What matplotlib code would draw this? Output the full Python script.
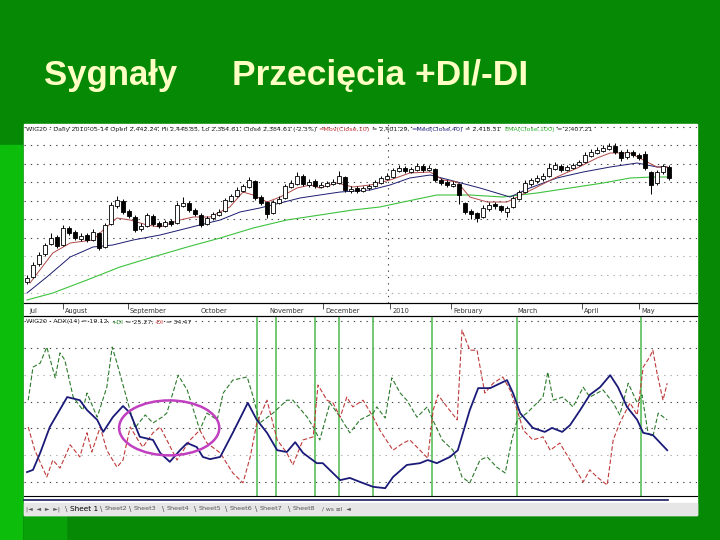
import numpy as np
import matplotlib.pyplot as plt
from matplotlib.patches import Rectangle, Ellipse
from matplotlib.lines import Line2D

# WIG20 candles (one candle per two sessions, Jul 2009 - May 2010)
opens = [1815, 1840, 1905, 1955, 2005, 2040, 2000, 2085, 2065, 2030,
         2050, 2025, 2060, 1990, 2105, 2195, 2220, 2170, 2140, 2080,
         2095, 2145, 2110, 2095, 2120, 2110, 2195, 2210, 2175, 2150,
         2105, 2135, 2150, 2170, 2220, 2245, 2270, 2290, 2320, 2240,
         2215, 2160, 2210, 2235, 2290, 2305, 2345, 2300, 2320, 2290,
         2295, 2305, 2310, 2340, 2270, 2285, 2270, 2285, 2295, 2310,
         2330, 2340, 2370, 2385, 2365, 2375, 2395, 2375, 2380, 2325,
         2315, 2295, 2305, 2210, 2170, 2160, 2140, 2180, 2205, 2195,
         2165, 2190, 2230, 2265, 2305, 2320, 2330, 2345, 2380, 2395,
         2375, 2385, 2400, 2415, 2445, 2460, 2470, 2480, 2495, 2465,
         2440, 2465, 2450, 2455, 2365, 2310, 2365, 2390]
highs = [1850, 1915, 1965, 2010, 2060, 2050, 2100, 2095, 2075, 2060,
         2060, 2080, 2065, 2110, 2215, 2245, 2230, 2180, 2150, 2110,
         2160, 2155, 2120, 2125, 2130, 2215, 2240, 2220, 2185, 2160,
         2145, 2165, 2180, 2235, 2255, 2290, 2305, 2340, 2325, 2250,
         2220, 2225, 2245, 2305, 2325, 2365, 2355, 2330, 2330, 2315,
         2320, 2330, 2370, 2345, 2295, 2295, 2295, 2305, 2325, 2345,
         2360, 2385, 2400, 2395, 2390, 2410, 2405, 2400, 2385, 2335,
         2325, 2320, 2310, 2215, 2180, 2165, 2200, 2215, 2215, 2200,
         2195, 2245, 2275, 2325, 2335, 2350, 2360, 2410, 2415, 2405,
         2400, 2410, 2425, 2465, 2480, 2490, 2500, 2510, 2510, 2475,
         2480, 2475, 2460, 2470, 2370, 2375, 2405, 2400]
lows = [1805, 1835, 1895, 1945, 2000, 1985, 1995, 2050, 2025, 2020,
        2015, 2020, 1975, 1985, 2100, 2185, 2155, 2135, 2065, 2070,
        2090, 2095, 2085, 2090, 2095, 2105, 2190, 2165, 2145, 2090,
        2100, 2125, 2145, 2165, 2215, 2240, 2265, 2285, 2225, 2200,
        2135, 2155, 2205, 2230, 2285, 2300, 2295, 2290, 2285, 2285,
        2290, 2300, 2305, 2265, 2260, 2260, 2265, 2275, 2290, 2305,
        2325, 2335, 2365, 2360, 2360, 2370, 2365, 2370, 2315, 2300,
        2290, 2290, 2205, 2155, 2130, 2115, 2135, 2170, 2180, 2165,
        2140, 2185, 2225, 2260, 2295, 2310, 2320, 2340, 2375, 2365,
        2370, 2380, 2395, 2410, 2440, 2455, 2465, 2475, 2455, 2420,
        2430, 2440, 2425, 2375, 2255, 2300, 2355, 2325]
closes = [1835, 1900, 1950, 2000, 2035, 1995, 2085, 2060, 2035, 2045,
          2025, 2065, 1985, 2100, 2200, 2225, 2165, 2145, 2075, 2095,
          2150, 2105, 2095, 2115, 2105, 2200, 2210, 2175, 2155, 2100,
          2135, 2155, 2165, 2225, 2245, 2275, 2295, 2325, 2235, 2210,
          2155, 2215, 2230, 2295, 2310, 2345, 2305, 2315, 2295, 2300,
          2310, 2315, 2345, 2275, 2280, 2270, 2285, 2295, 2315, 2335,
          2345, 2375, 2385, 2370, 2380, 2395, 2375, 2385, 2325, 2310,
          2300, 2305, 2250, 2165, 2155, 2135, 2185, 2200, 2195, 2175,
          2185, 2235, 2265, 2310, 2325, 2335, 2345, 2385, 2400, 2375,
          2390, 2400, 2415, 2450, 2465, 2475, 2485, 2495, 2465, 2435,
          2465, 2450, 2435, 2385, 2300, 2365, 2395, 2335]

# Mov(Close,10)
ma10_x = [0.5, 4.3, 7.2, 11, 12.7, 15, 17.2, 20, 22.2, 25.5, 27.7, 30.5, 33.8, 36,
          37.7, 40, 42.2, 45, 47.2, 48.8, 51.7, 54.3, 57.2, 60.5, 63.8, 67.2, 69.3,
          71.7, 73.8, 76.7, 80, 81.7, 85, 88.3, 91.7, 95, 97.2, 100.5, 102.7, 105, 106.7]
ma10_y = [1810, 1960, 2010, 2025, 2075, 2135, 2125, 2100, 2090, 2125, 2140, 2140, 2190, 2265,
          2250, 2215, 2240, 2285, 2300, 2285, 2310, 2290, 2300, 2325, 2360, 2365, 2325,
          2315, 2240, 2215, 2215, 2240, 2290, 2340, 2385, 2435, 2460, 2460, 2425, 2390, 2390]
# Med(Close,40)
med40_x = [0, 3.3, 7.2, 11, 14.3, 17.7, 22.2, 25.5, 28.8, 32.2, 35.5, 38.8, 42.2, 45.5,
           48.8, 52.2, 57.2, 60.5, 63.8, 67.2, 71.7, 75.5, 80.5, 83.8, 88.3, 92.7, 97.2,
           101.7, 105, 106.7]
med40_y = [1760, 1840, 1940, 1990, 2000, 2025, 2050, 2075, 2100, 2125, 2165, 2185, 2210, 2235,
           2250, 2265, 2275, 2300, 2335, 2350, 2315, 2285, 2240, 2285, 2335, 2365, 2390,
           2410, 2390, 2390]
# EMA(Close,100)
ema100_x = [0, 4.3, 10, 15.5, 21, 26.7, 32.2, 37.7, 43.3, 48.8, 54.3, 58.8, 62.7, 68.3,
            73.8, 79.3, 85, 90.5, 96, 100.5, 104.3, 106.7]
ema100_y = [1725, 1760, 1825, 1890, 1940, 1990, 2035, 2085, 2125, 2150, 2175, 2190, 2215, 2250,
            2250, 2240, 2260, 2285, 2310, 2335, 2340, 2340]

# ADX(14)
adx_x = [0, 1, 2.2, 3.8, 6.7, 8.8, 10, 11.7, 12.7, 14.3, 16, 17.2, 18.8, 21, 22.2, 23.8,
         25.5, 26.7, 28.3, 29.3, 30.5, 32.2, 34.3, 36.8, 38.3, 40, 41.7, 43.3, 44.7, 46,
         48.3, 49.3, 52.2, 53.8, 55.5, 57.7, 59.7, 61, 63.3, 65.5, 66.8, 68.3, 70.5, 71.8,
         73.8, 75.2, 77.2, 80, 81, 82.2, 84.3, 86.3, 87.5, 89.2, 90.5, 92.2, 93.8, 95.5,
         97.2, 98.5, 100, 101.7, 102.7, 104.3, 106.7]
adx_y = [14.2, 14.7, 18.5, 24.3, 31.0, 30.3, 28.1, 25.9, 23.2, 26.5, 29.0, 27.4, 22.1, 21.4,
         18.5, 16.5, 19.1, 20.7, 19.8, 17.6, 17.1, 17.6, 23.0, 29.7, 25.9, 23.0, 19.1, 18.7,
         20.9, 18.5, 16.2, 16.2, 12.4, 12.9, 12.0, 10.9, 10.6, 13.1, 15.8, 16.2, 16.9, 16.2,
         17.6, 19.1, 28.1, 33.0, 33.0, 34.8, 31.9, 27.4, 24.1, 23.2, 24.1, 23.2, 24.7, 28.1,
         31.5, 33.2, 35.9, 33.2, 28.8, 25.9, 23.0, 22.5, 19.1]
# +DI
pdi_x = [0.2, 1, 2.2, 3.3, 4.7, 5.5, 6.3, 7.7, 9.3, 10, 11.7, 13.3, 14.2, 15, 16.7, 18,
         19.7, 21, 22.5, 23.3, 25.2, 26.7, 28.8, 30, 31.7, 32.7, 34.3, 36.7, 37.7, 38.8,
         41, 43.3, 44.3, 46.7, 47.7, 48.8, 50.5, 52.2, 53.8, 55.5, 57.7, 58.3, 59.7, 60.8,
         62.2, 63.3, 65, 66.7, 67.5, 69.2, 71, 72.5, 73.8, 75.5, 76.7, 78.3, 79.7, 80.8,
         81.7, 83.3, 86, 86.8, 87.7, 89.3, 91, 92.7, 93.8, 96, 97.7, 98.8, 100.2, 101.7,
         102.5, 103.5, 104.3, 105.2, 106.7]
pdi_y = [30.3, 37.7, 38.6, 42.2, 35.3, 40.9, 39.3, 31.0, 28.1, 31.9, 26.5, 33.2, 42.2, 38.6,
         30.3, 24.1, 27.0, 25.2, 26.5, 27.4, 35.9, 32.6, 23.6, 27.4, 25.9, 31.9, 34.8, 35.5,
         31.0, 25.2, 27.4, 30.3, 30.3, 26.5, 24.3, 21.4, 29.7, 26.5, 23.0, 25.9, 27.4, 28.8,
         26.3, 35.3, 31.9, 30.3, 26.5, 28.8, 26.3, 21.4, 19.1, 13.1, 11.8, 16.9, 17.6, 15.3,
         14.0, 21.4, 25.9, 27.4, 31.0, 36.6, 30.3, 31.0, 28.8, 33.2, 31.0, 32.6, 29.7, 27.0,
         34.1, 29.7, 31.5, 23.0, 22.1, 27.4, 25.9]
# -DI
mdi_x = [0.2, 1.3, 3.3, 4.3, 5.5, 7.2, 8.8, 10, 10.8, 12.2, 13.3, 15, 16, 17.2, 18.5, 19.3,
         21, 22.2, 23.3, 25, 27.2, 28.8, 30, 32.2, 34.3, 36, 37.2, 38.3, 40, 41.7, 43.3,
         44.3, 46, 47.7, 48.5, 50, 51, 52.2, 53.3, 54.3, 56, 57.7, 58.8, 61, 62.7, 63.8,
         65.5, 66.8, 67.7, 68.5, 70, 71.7, 72.5, 73.8, 75, 76.3, 77.7, 79.3, 80.5, 81.7,
         82.7, 84.3, 86, 87.2, 88.8, 90.5, 92.7, 93.8, 95, 96.7, 97.7, 98.8, 100.5, 101.7,
         102.7, 103.8, 104.3, 105, 106, 106.7]
mdi_y = [24.3, 19.1, 13.1, 16.9, 15.1, 20.3, 17.6, 23.0, 18.7, 24.3, 19.1, 15.3, 16.9, 24.3,
         21.4, 19.8, 23.0, 24.3, 21.4, 16.9, 21.4, 23.6, 20.7, 18.5, 14.0, 11.8, 17.6, 25.2,
         30.3, 21.4, 18.5, 15.8, 21.4, 22.1, 33.7, 30.3, 29.7, 26.5, 31.0, 28.8, 30.3, 26.5,
         23.6, 19.1, 20.7, 21.4, 19.1, 17.3, 28.1, 31.5, 28.8, 25.9, 46.0, 41.5, 41.5, 31.9,
         34.1, 35.5, 32.6, 28.1, 23.6, 21.4, 22.1, 19.1, 20.7, 16.9, 12.0, 14.7, 13.1, 11.3,
         21.4, 25.2, 29.7, 27.0, 37.7, 40.0, 41.5, 36.4, 30.3, 34.1]

# +DI/-DI crossing signals (candle index)
signals = [38.3, 41.5, 48, 52, 57.7, 67.5, 81.7, 102.3]

months = ["Jul", "August", "September", "October", "November", "December",
          "2010", "February", "March", "April", "May"]
month_pos = [0.1, 6, 16.8, 28.6, 40, 49.3, 60.5, 70.7, 81.3, 92.5, 102]
month_tick = [False, True, True, False, False, True, True, True, False, True, True]

price_grid = [1760 + 92.5 * k for k in range(10)]
adx_grid = [12, 18, 24, 30, 36, 42, 48]

sheets = ["Sheet 1", "Sheet2", "Sheet3", "Sheet4", "Sheet5", "Sheet6", "Sheet7", "Sheet8"]

# ---------------------------------------------------------------
W, H = 720, 540
fig = plt.figure(figsize=(7.2, 5.4), dpi=100, facecolor="#068a06")


def px_axes(x0, y0, x1, y1):
    a = fig.add_axes([x0 / W, 1 - y1 / H, (x1 - x0) / W, (y1 - y0) / H])
    a.set_facecolor("none")
    a.set_zorder(2)
    return a


def px_rect(x0, y0, x1, y1, color):
    fig.patches.append(Rectangle((x0 / W, 1 - y1 / H), (x1 - x0) / W, (y1 - y0) / H,
                                 transform=fig.transFigure, color=color, zorder=-1))


def chain(ax, x, y, parts, size=4.6):
    # consecutive coloured pieces of one header line, each placed after the previous
    s, col = parts[0]
    prev = ax.text((x - 24) / 673, y, s, transform=ax.transAxes, fontsize=size,
                   color=col, va="center", ha="left")
    for s, col in parts[1:]:
        prev = ax.annotate(s, xy=(1, 0.5), xycoords=prev, fontsize=size, color=col,
                           va="center", ha="left", annotation_clip=False)


# slide decoration
px_rect(0, 145, 22, 540, "#0cbd0c")
px_rect(24, 515, 66, 540, "#08a208")
px_rect(24, 124, 697, 515, "white")
px_rect(24, 503, 697, 515, "#e6e6e6")
fig.lines.append(Line2D([24 / W, 668 / W], [1 - 500 / H] * 2, transform=fig.transFigure,
                        color="#1c1c60", lw=1.2))

fig.text(44 / W, 1 - 76 / H, "Sygnały", fontsize=25, fontweight="bold",
         family="Liberation Sans", color="#ffffc4", va="center")
fig.text(232 / W, 1 - 76 / H, "Przecięcia +DI/-DI", fontsize=25.5, fontweight="bold",
         family="Liberation Sans", color="#ffffc4", va="center")

XL = (-0.5, (697 - 27) / 6)

# price panel
ax = px_axes(24, 124, 697, 303)
ax.set_xlim(*XL)
ax.set_ylim(1710, 2605)
for s in ["top", "left", "right"]:
    ax.spines[s].set_visible(False)
ax.spines["bottom"].set_color("black")
ax.set_xticks([])
ax.set_yticks([])
for k, g in enumerate(price_grid):
    ax.axhline(g, color="#444" if k > 2 else "#aaa", lw=0.8, dashes=(1.2, 4.5), zorder=0)
ax.axvline(60.2, color="#444", lw=0.8, dashes=(1.2, 4.5), zorder=0)

x = np.arange(len(closes))
o = np.array(opens)
c = np.array(closes)
ax.vlines(x, lows, highs, color="black", lw=0.7, zorder=3)
up = c >= o
ax.bar(x, np.abs(c - o) + 1, bottom=np.minimum(o, c), width=0.55,
       color=np.where(up, "white", "black"), edgecolor="black", lw=0.6, zorder=4)
ax.plot(ema100_x, ema100_y, color="#3ec23e", lw=0.8, zorder=2)
ax.plot(med40_x, med40_y, color="#1c1c70", lw=0.7, zorder=2)
ax.plot(ma10_x, ma10_y, color="#b04848", lw=0.7, zorder=2)

chain(ax, 26, 1 - 5 / 179, [
    ("WIG20 - Daily 2010-05-14 Open 2,442.24, Hi 2,448.85, Lo 2,384.61, "
     "Close 2,384.61 (-2.3%) ", "#222"),
    ("=Mov(Close,10)", "#c03030"), (" = 2,401.29, ", "#222"),
    ("=Med(Close,40)", "#202080"), (" = 2,418.31  ", "#222"),
    ("EMA(Close,100)", "#30b030"), (" = 2,407.21", "#222")])

# month bar
axm = px_axes(24, 303, 697, 316)
axm.set_xlim(*XL)
axm.set_ylim(0, 1)
axm.set_xticks([])
axm.set_yticks([])
for s in ["left", "right"]:
    axm.spines[s].set_visible(False)
for name, pos, tk in zip(months, month_pos, month_tick):
    if tk:
        axm.vlines(pos, 0.55, 1.0, color="#333", lw=0.6)
    axm.text(pos + 0.35, 0.42, name, fontsize=4.8, va="center", color="#333")

# ADX panel
ax2 = px_axes(24, 316, 697, 496)
ax2.set_xlim(*XL)
ax2.set_ylim(8.85, 49.15)
for s in ["left", "right"]:
    ax2.spines[s].set_visible(False)
ax2.set_xticks([])
ax2.set_yticks([])
for g in adx_grid:
    ax2.axhline(g, color="#aaa" if g in (18, 36) else "#444", lw=0.8,
                dashes=(1.2, 4.5), zorder=0)
for s in signals:
    ax2.axvline(s, color="#4cb84c", lw=1.1, zorder=1)
ax2.plot(pdi_x, pdi_y, color="#2d7a2d", lw=0.8, dashes=(4, 2), zorder=3)
ax2.plot(mdi_x, mdi_y, color="#c03a3a", lw=0.8, dashes=(4, 2), zorder=3)
ax2.plot(adx_x, adx_y, color="#1a1a78", lw=1.3, zorder=4)
ax2.add_patch(Ellipse((23.7, 24.1), 16.7, 12.3, fill=False, edgecolor="#c040c0",
                      lw=1.8, zorder=5))

chain(ax2, 26, 1 - 6 / 180, [
    ("WIG20 - ADX(14) = 19.12, ", "#222"), ("+DI", "#2d8a2d"),
    (" = 25.27, ", "#222"), ("-DI", "#c03030"), (" = 34.47", "#222")])

# sheet tabs
ty = 1 - 509 / H
fig.text(26 / W, ty, "|◄  ◄  ►  ►|", fontsize=4.3, color="#555", va="center")
tab_x = [70, 105, 134, 167, 199, 230, 260, 293]
for k, (name, tx) in enumerate(zip(sheets, tab_x)):
    fig.text((tx - 5) / W, ty, "\\", fontsize=5, color="#444", va="center")
    fig.text(tx / W, ty, name, fontsize=5.3 if k == 0 else 4.6, va="center",
             color="black" if k == 0 else "#555")
fig.text(322 / W, ty, "/ ws ≡l  ◄", fontsize=4.3, color="#555", va="center")

fig.savefig("out.png", dpi=100, facecolor=fig.get_facecolor())
